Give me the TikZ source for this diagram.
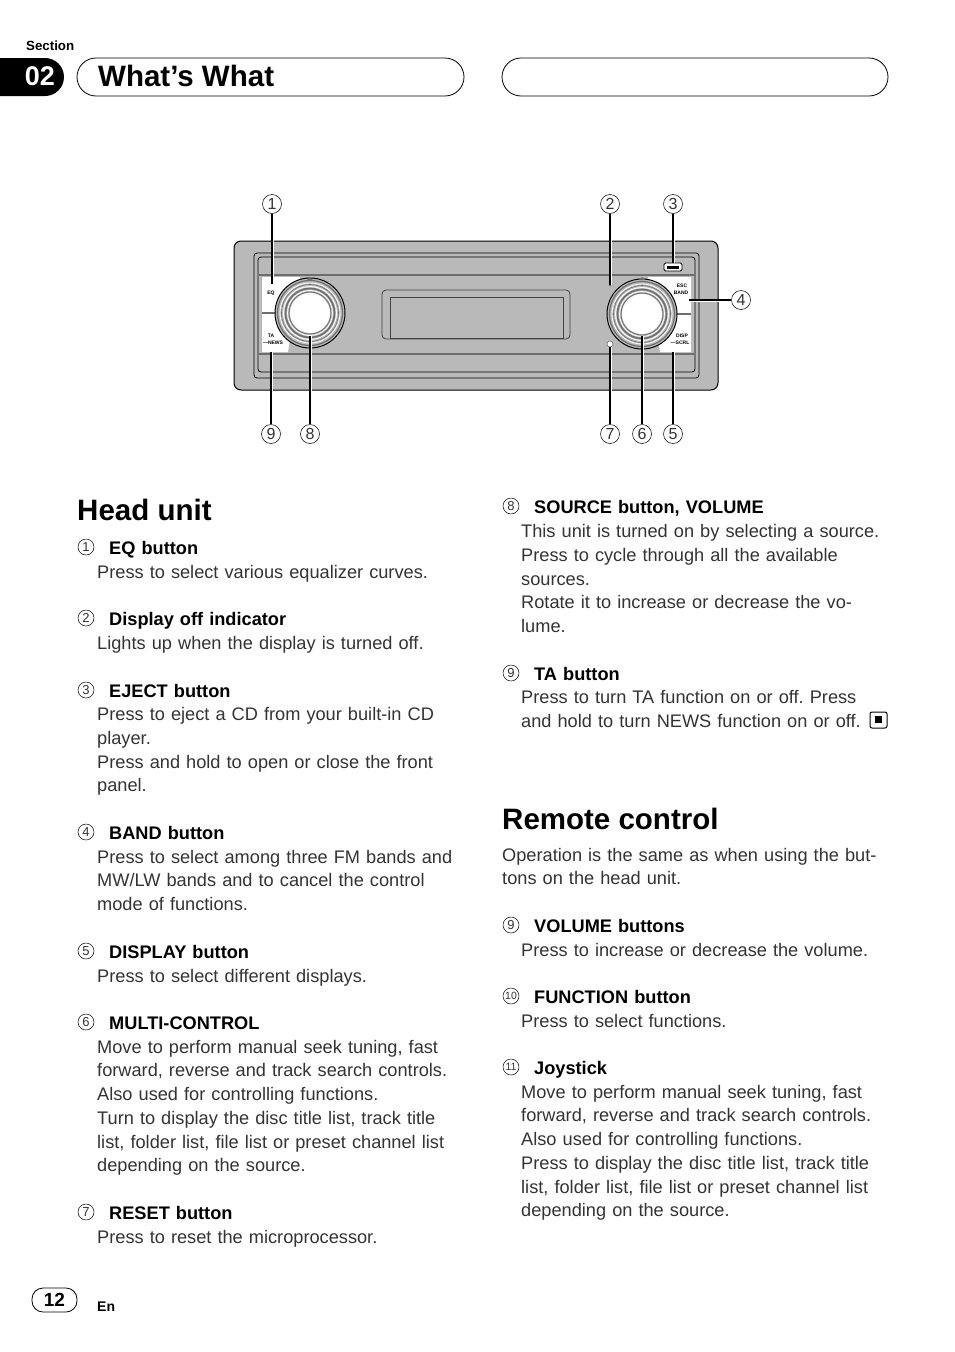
\documentclass[tikz,border=0pt]{standalone}
\usepackage{fontspec}
\setmainfont{Liberation Sans}
\usepackage{xcolor}
\usetikzlibrary{positioning}
\definecolor{panelgray}{HTML}{B9B9B9}
\definecolor{darkgray}{HTML}{6E6E6E}
\definecolor{inktext}{HTML}{333333}
\definecolor{screenline}{HTML}{444444}
\newcommand{\drawknob}[2]{%
  \fill[panelgray] (#1,#2) circle (35pt);
  \draw[black, line width=1pt] (#1,#2) circle (35pt);
  \draw[darkgray, line width=1.2pt] (#1,#2) circle (32.5pt);
  \draw[white, line width=.8pt] (#1,#2) circle (30pt);
  \draw[darkgray, line width=.6pt] (#1,#2) circle (28.5pt);
  \draw[white, line width=1pt] (#1,#2) circle (26.5pt);
  \draw[darkgray, line width=1.6pt] (#1,#2) circle (24.5pt);
  \draw[white, line width=.8pt] (#1,#2) circle (22.5pt);
  \draw[darkgray, line width=.8pt] (#1,#2) circle (21pt);
  \fill[white] (#1,#2) circle (20pt);
}
\frenchspacing
\begin{document}
\begin{tikzpicture}[x=1pt, y=-1pt,
    on grid,
    node distance=23.75pt,
    pill/.style={%
      rectangle, draw=black, line width=.8pt, rounded corners=19pt
    },
    head/.style={%
      anchor=west, inner sep=0pt, text width=340pt, text height=16pt, text depth=2pt,
      font=\fontsize{18.2}{22}\selectfont\bfseries, text=black
    },
    body/.style={%
      anchor=west, inner sep=0pt, text width=385pt, text height=16pt, text depth=2pt,
      font=\fontsize{18.2}{22}\selectfont, text=inktext
    },
    title/.style={%
      anchor=west, inner sep=0pt, font=\fontsize{29.5}{32}\selectfont\bfseries, text=black
    },
    num/.style={%
      circle, draw=black, line width=.5pt, inner sep=0pt, minimum size=16pt,
      font=\fontsize{13}{14}\selectfont, text=inktext
    },
    callnum/.style={%
      circle, draw=black, line width=.5pt, fill=white, inner sep=0pt, minimum size=19pt,
      font=\fontsize{16}{18}\selectfont, text=inktext
    },
    tiny/.style={%
      inner sep=0pt, font=\fontsize{5}{6}\selectfont\bfseries
    },
    leader/.style={%
      draw=white, line width=3pt, postaction={draw=black, line width=1.1pt}
    }
]
    \useasboundingbox (0,0) rectangle (954,1352);

    % page header
    \node[inner sep=0pt, font=\fontsize{13.3}{15}\selectfont\bfseries, anchor=west] (sectionlabel) at (26,46) {Section};
    \fill[black, rounded corners=19pt] (-30,58) rectangle (64,96);
    \node[inner sep=0pt, text=white, font=\fontsize{27}{30}\selectfont\bfseries] (sectionnum) at (40,76) {02};
    \draw[pill] (77,58) rectangle (464,96);
    \draw[pill] (502,58) rectangle (888,96);
    \node[title] (whatswhat) at (98,76) {What’s What};

    % head unit drawing
    \draw[black, line width=1pt, fill=panelgray, rounded corners=7pt] (234,241) rectangle (718,390);
    \draw[black, line width=.8pt, rounded corners=3pt] (254,253) rectangle (699,378);
    \draw[black, line width=.8pt, rounded corners=3pt] (258,257) rectangle (695,372);
    \draw[darkgray, line width=1.5pt] (259,275) -- (694,275);
    \draw[darkgray, line width=1.5pt] (259,354) -- (694,354);
    \fill[white] (262,277) -- (300,277) -- (288,352) -- (262,352) -- cycle;
    \fill[white] (648,277) -- (691,277) -- (691,352) -- (660,352) -- cycle;
    \draw[darkgray, line width=1.5pt] (262,313) -- (290,313);
    \draw[darkgray, line width=1.5pt] (660,314) -- (691,314);
    \draw[screenline, line width=.8pt, rounded corners=4pt] (382,290) rectangle (570,339);
    \draw[screenline, line width=.8pt] (390,297) rectangle (563,338);
    \drawknob{310}{313}
    \drawknob{642}{314}
    \fill[darkgray] (310,277) -- (313,280) -- (307,280) -- cycle;
    \fill[darkgray] (642,277) -- (645,280) -- (639,280) -- cycle;
    \draw[black, line width=.8pt, fill=white, rounded corners=1.5pt] (664,263) rectangle (682,271);
    \fill[black] (667,266) rectangle (679,269);
    \fill[darkgray] (610,285) circle (1.5pt);
    \draw[darkgray, line width=.6pt, fill=white] (610,344) circle (3pt);

    \node[tiny] (eqkey)   at (271,293) {EQ};
    \node[tiny] (takey)   at (271,336) {TA};
    \node[tiny] (newskey) at (273,343) {—NEWS};
    \node[tiny] (esckey)  at (682,286) {ESC};
    \node[tiny] (bandkey) at (681,293) {BAND};
    \node[tiny] (dispkey) at (682,336) {DISP};
    \node[tiny] (scrlkey) at (680,343) {—SCRL};

    % callouts
    \coordinate (eqspot)    at (272,284);
    \coordinate (offspot)   at (610,285);
    \coordinate (ejectspot) at (673,263);
    \coordinate (bandspot)  at (689,300);
    \coordinate (dispspot)  at (673,352);
    \coordinate (multispot) at (642,336);
    \coordinate (resetspot) at (610,347);
    \coordinate (srcspot)   at (310,336);
    \coordinate (taspot)    at (271,352);

    \node[callnum] (c1) at (272,204) {1};
    \node[callnum] (c2) at (610,204) {2};
    \node[callnum] (c3) at (673,204) {3};
    \node[callnum] (c4) at (741,300) {4};
    \node[callnum] (c5) at (673,434) {5};
    \node[callnum] (c6) at (642,434) {6};
    \node[callnum] (c7) at (610,434) {7};
    \node[callnum] (c8) at (310,434) {8};
    \node[callnum] (c9) at (271,434) {9};

    \draw[leader] (c1) -- (eqspot);
    \draw[leader] (c2) -- (offspot);
    \draw[leader] (c3) -- (ejectspot);
    \draw[leader] (c4) -- (bandspot);
    \draw[leader] (c5) -- (dispspot);
    \draw[leader] (c6) -- (multispot);
    \draw[leader] (c7) -- (resetspot);
    \draw[leader] (c8) -- (srcspot);
    \draw[leader] (c9) -- (taspot);

    % left column
    \node[title] (headunit) at (77,510) {Head unit};

    \node[num]  (n1) at (86,547) {1};
    \node[head] (h1) at (109,547) {EQ button};
    \node[body] (b1) at (97,571) {Press to select various equalizer curves.};

    \node[num]  (n2) at (86,618) {2};
    \node[head] (h2) at (109,618) {Display off indicator};
    \node[body] (b2) at (97,642) {Lights up when the display is turned off.};

    \node[num]  (n3) at (86,690) {3};
    \node[head] (h3) at (109,690) {EJECT button};
    \node[body] (b3a) at (97,713.5) {Press to eject a CD from your built-in CD};
    \node[body] (b3b) [below = of b3a] {player.};
    \node[body] (b3c) [below = of b3b] {Press and hold to open or close the front};
    \node[body] (b3d) [below = of b3c] {panel.};

    \node[num]  (n4) at (86,832) {4};
    \node[head] (h4) at (109,832) {BAND button};
    \node[body] (b4a) at (97,856) {Press to select among three FM bands and};
    \node[body] (b4b) [below = of b4a] {MW/LW bands and to cancel the control};
    \node[body] (b4c) [below = of b4b] {mode of functions.};

    \node[num]  (n5) at (86,951) {5};
    \node[head] (h5) at (109,951) {DISPLAY button};
    \node[body] (b5) at (97,975) {Press to select different displays.};

    \node[num]  (n6) at (86,1022) {6};
    \node[head] (h6) at (109,1022) {MULTI-CONTROL};
    \node[body] (b6a) at (97,1046) {Move to perform manual seek tuning, fast};
    \node[body] (b6b) [below = of b6a] {forward, reverse and track search controls.};
    \node[body] (b6c) [below = of b6b] {Also used for controlling functions.};
    \node[body] (b6d) [below = of b6c] {Turn to display the disc title list, track title};
    \node[body] (b6e) [below = of b6d] {list, folder list, file list or preset channel list};
    \node[body] (b6f) [below = of b6e] {depending on the source.};

    \node[num]  (n7) at (86,1212) {7};
    \node[head] (h7) at (109,1212) {RESET button};
    \node[body] (b7) at (97,1236) {Press to reset the microprocessor.};

    % right column
    \node[num]  (n8) at (511,506) {8};
    \node[head] (h8) at (534,506) {SOURCE button, VOLUME};
    \node[body] (b8a) at (521,530.5) {This unit is turned on by selecting a source.};
    \node[body] (b8b) [below = of b8a] {Press to cycle through all the available};
    \node[body] (b8c) [below = of b8b] {sources.};
    \node[body] (b8d) [below = of b8c] {Rotate it to increase or decrease the vo-};
    \node[body] (b8e) [below = of b8d] {lume.};

    \node[num]  (n9) at (511,673) {9};
    \node[head] (h9) at (534,673) {TA button};
    \node[body] (b9a) at (521,696.5) {Press to turn TA function on or off. Press};
    \node[body] (b9b) [below = of b9a] {and hold to turn NEWS function on or off.};
    \draw[black, line width=1pt, rounded corners=2pt] (870,712) rectangle (887,728);
    \fill[black] (875,716) rectangle (882,723);

    \node[title] (remote) at (502,819) {Remote control};
    \node[body] (opa) at (502,854) {Operation is the same as when using the but-};
    \node[body] (opb) [below = of opa] {tons on the head unit.};

    \node[num]  (r9) at (511,925) {9};
    \node[head] (q9) at (534,925) {VOLUME buttons};
    \node[body] (s9) at (521,949) {Press to increase or decrease the volume.};

    \node[num, font=\fontsize{10.5}{12}\selectfont]  (r10) at (511,996) {10};
    \node[head] (q10) at (534,996) {FUNCTION button};
    \node[body] (s10) at (521,1020) {Press to select functions.};

    \node[num, font=\fontsize{10.5}{12}\selectfont]  (r11) at (511,1067) {11};
    \node[head] (q11) at (534,1067) {Joystick};
    \node[body] (s11a) at (521,1091) {Move to perform manual seek tuning, fast};
    \node[body] (s11b) [below = of s11a] {forward, reverse and track search controls.};
    \node[body] (s11c) [below = of s11b] {Also used for controlling functions.};
    \node[body] (s11d) [below = of s11c] {Press to display the disc title list, track title};
    \node[body] (s11e) [below = of s11d] {list, folder list, file list or preset channel list};
    \node[body] (s11f) [below = of s11e] {depending on the source.};

    % page footer
    \draw[black, line width=.8pt, rounded corners=11pt] (32,1288) rectangle (77,1312);
    \node[inner sep=0pt, font=\fontsize{19}{22}\selectfont\bfseries] (pagenum) at (54.5,1300) {12};
    \node[inner sep=0pt, font=\fontsize{14}{15}\selectfont\bfseries, anchor=west] (lang) at (97,1307) {En};

  \end{tikzpicture}
\end{document}
